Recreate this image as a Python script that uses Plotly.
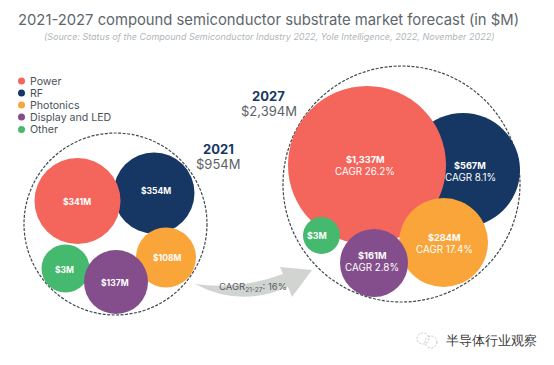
import plotly.graph_objects as go

FONT = "Inter"
categories = ["Power", "RF", "Photonics", "Display and LED", "Other"]
colors = ["#F4665C", "#163763", "#F9A539", "#834E8B", "#45B96E"]
values_2021 = ["$341M", "$354M", "$108M", "$137M", "$3M"]
values_2027 = ["$1,337M", "$567M", "$284M", "$161M", "$3M"]
cagr_2027 = ["CAGR 26.2%", "CAGR 8.1%", "CAGR 17.4%", "CAGR 2.8%", ""]

# layout of the packed bubbles: centre x, centre y, diameter (pixels of the picture)
bub_2021 = [(77.5, 201, 86), (154, 193, 81), (166, 257.5, 60), (116, 282, 64), (65.5, 268.5, 48)]
bub_2027 = [(367, 165, 158), (463, 170, 114), (443.5, 242.5, 89), (374, 263, 68), (321.5, 235.5, 37)]
order_2021 = [1, 0, 2, 4, 3]
order_2027 = [1, 0, 2, 3, 4]

fig = go.Figure()

def bubbles(bub, order):
    for i in order:
        x, y, d = bub[i]
        fig.add_trace(go.Scatter(x=[x], y=[y], mode="markers", showlegend=False, hoverinfo="skip",
                                 marker=dict(size=d, color=colors[i], line=dict(width=0), opacity=1)))

def ann(x, y, text, size, color="#FFFFFF", anchor="center", weight=None, italic=False):
    t = text
    if weight:
        t = f"<b>{t}</b>"
    if italic:
        t = f"<i>{t}</i>"
    fig.add_annotation(x=x, y=y, text=t, showarrow=False, xanchor=anchor, yanchor="middle",
                       font=dict(family=FONT, size=size, color=color))

# dashed outer circles
for x0, y0, x1, y1 in [(24, 133, 207, 315), (283, 66, 520, 302)]:
    fig.add_shape(type="circle", xref="x", yref="y", x0=x0, y0=y0, x1=x1, y1=y1,
                  line=dict(color="#3F4A50", width=1.2, dash="3px,1.5px"), layer="below")

# curved growth arrow
fig.add_shape(type="path", xref="x", yref="y", layer="below", line=dict(width=0), fillcolor="#D2D4D1",
              path="M 195 284 Q 240 290 283 274 L 280 267 L 312 270 L 292 297 L 288 287 Q 240 308 195 284 Z")

bubbles(bub_2021, order_2021)
bubbles(bub_2027, order_2027)

# legend
for i, c in enumerate(categories):
    y = [81, 93, 105, 117, 129.5][i]
    fig.add_trace(go.Scatter(x=[21.5], y=[y], mode="markers", showlegend=False, hoverinfo="skip",
                             marker=dict(size=7, color=colors[i], line=dict(width=0))))
    ann(28, y, c, 10.6, "#4A5258", "left")

ann(268.5, 19.5, "2021-2027 compound semiconductor substrate market forecast (in $M)", 14.8, "#5E666C")
ann(269, 36, "(Source: Status of the Compound Semiconductor Industry 2022, Yole Intelligence, 2022, November 2022)",
    9, "#B0B6BA", italic=True)

ann(218, 149, "2021", 13, "#163763", weight=True)
ann(218, 164, "$954M", 13, "#5A6268")
ann(268, 96, "2027", 13, "#163763", weight=True)
ann(268.5, 111, "$2,394M", 13, "#5A6268")

# 2021 labels
offs_2021 = [(-0.5, 1), (2, -2), (1, 0.5), (-1, 1), (-1.5, 1.5)]
for i, v in enumerate(values_2021):
    x, y, d = bub_2021[i]
    ann(x + offs_2021[i][0], y + offs_2021[i][1], v, 8.5, weight=True)

# 2027 labels
offs_2027 = [(-2, 0), (7, 1.5), (0.5, 1), (-2, -1.5), (-5, 0)]
for i, v in enumerate(values_2027):
    x, y, d = bub_2027[i]
    dx, dy = offs_2027[i]
    if cagr_2027[i]:
        ann(x + dx, y + dy - 6, v, 9.2, weight=True)
        ann(x + dx, y + dy + 6, cagr_2027[i], 9.8)
    else:
        ann(x + dx, y + dy, v, 8.8, weight=True)

fig.add_annotation(x=217, y=287, xanchor="left", yanchor="middle", showarrow=False,
                   text="CAGR<sub>21-27</sub>: 16%", font=dict(family=FONT, size=9.5, color="#555C60"))

# watermark
ann(491, 340, "半导体行业观察", 12.7, "#3A3A3A", "center")
for x0, y0, x1, y1 in [(417, 333, 429, 344), (425, 336, 437, 348)]:
    fig.add_shape(type="circle", xref="x", yref="y", x0=x0, y0=y0, x1=x1, y1=y1,
                  line=dict(color="#C4C6C8", width=1, dash="2px,1.5px"), layer="below")

fig.update_layout(width=554, height=365, margin=dict(l=0, r=0, t=0, b=0), autosize=False,
                  paper_bgcolor="white", plot_bgcolor="white", showlegend=False,
                  xaxis=dict(range=[0, 554], visible=False, fixedrange=True),
                  yaxis=dict(range=[365, 0], visible=False, fixedrange=True))
fig.write_html("out.html", config={"displayModeBar": False},
               post_script="document.body.style.margin='0';document.body.style.overflow='hidden';")
